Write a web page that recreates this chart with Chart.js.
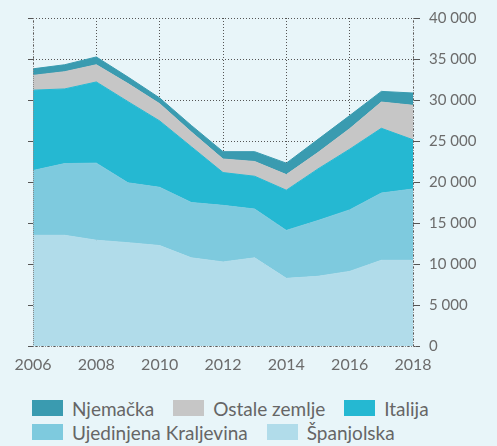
<!DOCTYPE html>
<html><head><meta charset="utf-8">
<script src="https://cdn.jsdelivr.net/npm/chart.js@4.4.1/dist/chart.umd.min.js"></script>
<style>
html,body{margin:0;padding:0;background:#e8f5f9;}
#wrap{position:relative;width:497px;height:446px;overflow:hidden;}
#c{position:absolute;left:0;top:0;}
#legend{position:absolute;left:32px;top:396px;font-family:Lato,sans-serif;font-size:19px;color:#666;}
.row{display:flex;height:24px;align-items:center;white-space:nowrap}
.item{display:flex;align-items:center;margin-right:19px}
.box{width:31px;height:16px;margin-right:9px;flex:none}
</style></head><body>
<div id="wrap"><canvas id="c" width="497" height="382"></canvas><div id="legend"></div></div>
<script>
// Data (values in persons)
const years = [2006,2007,2008,2009,2010,2011,2012,2013,2014,2015,2016,2017,2018];
const spanjolska = [13500,13500,12900,12600,12250,10750,10250,10750,8250,8500,9100,10450,10450];
const ujedinjenaKraljevina = [7900,8750,9400,7300,7100,6750,6900,5950,5850,6800,7500,8200,8700];
const italija = [9800,9100,9900,9900,8100,6800,4000,4000,4900,6300,7400,7900,6000];
const ostaleZemlje = [1800,2100,2100,2200,2100,1800,1650,1800,1900,2000,2500,3200,4200];
const njemacka = [800,850,950,800,700,800,900,1200,1400,1600,1600,1300,1500];
const seriesNames = ['Španjolska','Ujedinjena Kraljevina','Italija','Ostale zemlje','Njemačka'];
const yTicks = [0,5000,10000,15000,20000,25000,30000,35000,40000];
const xTickLabels = [2006,2008,2010,2012,2014,2016,2018];

const colors = ['#b1dcea','#7ecade','#25b8d2','#c6c6c6','#3a9bb0'];
const seriesValues = [spanjolska, ujedinjenaKraljevina, italija, ostaleZemlje, njemacka];

const datasets = seriesValues.map((vals,i)=>({
  label: seriesNames[i],
  data: vals.map((v,j)=>({x: years[j], y: v})),
  backgroundColor: colors[i],
  borderColor: colors[i],
  borderWidth: 1,
  pointRadius: 0,
  tension: 0,
  fill: i===0 ? 'origin' : '-1'
}));

const FONT = 'Lato, sans-serif';
const dotted = [1,2];

const edgePlugin = {
  id:'edges',
  afterDatasetsDraw(chart){
    const {ctx, chartArea:a} = chart;
    ctx.save();
    ctx.strokeStyle = '#8a8a8a';
    ctx.lineWidth = 1;
    ctx.setLineDash([1,1]);
    ctx.beginPath();
    const l = Math.round(a.left)+0.5, r = Math.round(a.right)+0.5, b = Math.round(a.bottom)+0.5;
    ctx.moveTo(l, a.top); ctx.lineTo(l, b);
    ctx.moveTo(r, a.top); ctx.lineTo(r, b);
    ctx.moveTo(a.left, b); ctx.lineTo(a.right+4, b);
    ctx.stroke();
    ctx.restore();
  }
};

new Chart(document.getElementById('c'), {
  type: 'line',
  data: { datasets },
  plugins: [edgePlugin],
  options: {
    responsive: false,
    animation: false,
    layout: { padding: { top: 15, right: 0, left: 0, bottom: 0 } },
    plugins: { legend: { display: false }, tooltip: { enabled: false } },
    scales: {
      x: {
        type: 'linear', min: 2006, max: 2018,
        afterBuildTicks: s => { s.ticks = xTickLabels.map(v=>({value:v})); },
        afterFit: s => { s.height = 36; },
        grid: { color: '#555', lineWidth: 1, drawTicks: false },
        border: { display: false, dash: dotted },
        ticks: { color: '#6b6b6b', font: { family: FONT, size: 16 }, padding: 9, maxRotation: 0,
          callback: v => String(v) }
      },
      y: {
        position: 'right', stacked: true, min: 0, max: 40000,
        afterBuildTicks: s => { s.ticks = yTicks.map(v=>({value:v})); },
        afterFit: s => { s.width = 84; },
        grid: { color: '#555', lineWidth: 1, tickLength: 7 },
        border: { display: false, dash: dotted },
        ticks: { color: '#6b6b6b', font: { family: FONT, size: 15 }, padding: 9,
          callback: v => v === 0 ? '0' : Math.floor(v/1000) + ' 000' }
      },
      yL: {
        position: 'left', min: 0, max: 40000,
        afterBuildTicks: s => { s.ticks = yTicks.map(v=>({value:v})); },
        afterFit: s => { s.width = 33; },
        grid: { color: '#555', lineWidth: 1, tickLength: 5, drawOnChartArea: false },
        border: { display: false, dash: dotted },
        ticks: { display: false }
      }
    }
  }
});

// HTML legend built from series names and colours
const legendRows = [[4,3,2],[1,0]];
const lg = document.getElementById('legend');
legendRows.forEach(r=>{
  const row = document.createElement('div'); row.className='row';
  r.forEach(i=>{
    const it = document.createElement('div'); it.className='item';
    const b = document.createElement('span'); b.className='box'; b.style.background=colors[i];
    const t = document.createElement('span'); t.textContent = seriesNames[i];
    it.appendChild(b); it.appendChild(t); row.appendChild(it);
  });
  lg.appendChild(row);
});
</script>
</body></html>
